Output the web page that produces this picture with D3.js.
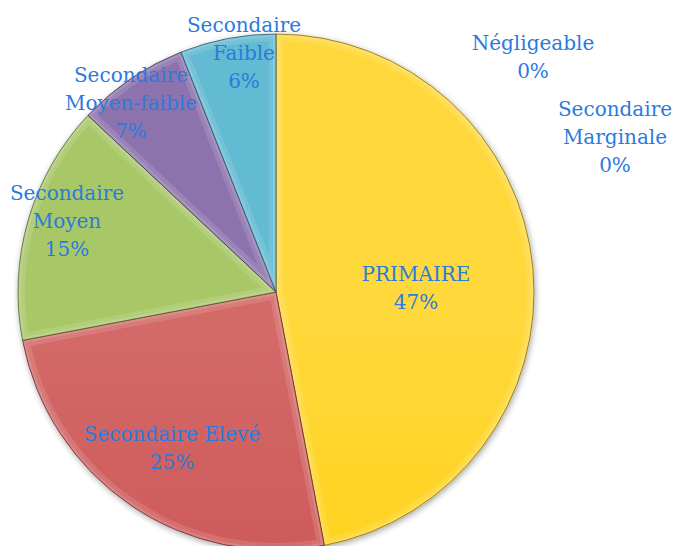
<!DOCTYPE html>
<html>
<head>
<meta charset="utf-8">
<script src="https://cdn.jsdelivr.net/npm/d3@7"></script>
<style>
  body { margin: 0; background: #fff; }
  svg { display: block; }
</style>
</head>
<body>
<div id="chart"></div>
<script>
// chart data
const categories = ["PRIMAIRE", "Secondaire Elevé", "Secondaire Moyen", "Secondaire Moyen-faible", "Secondaire Faible", "Négligeable", "Secondaire Marginale"];
const values = [47, 25, 15, 7, 6, 0, 0];
const labelLines = [
  ["PRIMAIRE"],
  ["Secondaire Elevé"],
  ["Secondaire", "Moyen"],
  ["Secondaire", "Moyen-faible"],
  ["Secondaire", "Faible"],
  ["Négligeable"],
  ["Secondaire", "Marginale"]
];
const colors = ["#ffcc00", "#c9474a", "#9cbc58", "#7f62a0", "#4aabc6", "#2c4d75", "#f79646"];
const lightColors = ["#ffd83a", "#d36a68", "#a8c868", "#8d73ae", "#62bad3", "#4a6a94", "#f9aa6a"];

// label placement
const labelPos = [
  [416, 288], [172, 448], [67, 221], [131, 103], [244, 53], [533, 57], [615, 137]
];

const width = 676, height = 546;
const cx = 276, cy = 292, radius = 258;

const svg = d3.select("#chart")
  .append("svg")
  .attr("width", width)
  .attr("height", height);

const defs = svg.append("defs");

// shadow
const shadow = defs.append("filter")
  .attr("id", "shadow")
  .attr("x", "-10%").attr("y", "-10%")
  .attr("width", "120%").attr("height", "120%");
shadow.append("feGaussianBlur").attr("in", "SourceAlpha").attr("stdDeviation", 3);
shadow.append("feOffset").attr("dx", 1).attr("dy", 2).attr("result", "off");
shadow.append("feComponentTransfer").append("feFuncA").attr("type", "linear").attr("slope", 0.35);
const merge = shadow.append("feMerge");
merge.append("feMergeNode");
merge.append("feMergeNode").attr("in", "SourceGraphic");

colors.forEach(function (c, i) {
  let g = defs.append("linearGradient")
    .attr("id", "grad" + i)
    .attr("gradientUnits", "userSpaceOnUse")
    .attr("x1", 0).attr("y1", cy - radius)
    .attr("x2", 0).attr("y2", cy + radius);
  g.append("stop").attr("offset", "0%").attr("stop-color", lightColors[i]);
  g.append("stop").attr("offset", "100%").attr("stop-color", c);
});

const pie = d3.pie()
  .value(function (d) { return d; })
  .sort(null);

const arc = d3.arc()
  .innerRadius(0)
  .outerRadius(radius);

const arcs = pie(values);

const g = svg.append("g")
  .attr("transform", "translate(" + cx + "," + cy + ")");

const slices = g.append("g").attr("filter", "url(#shadow)");

arcs.forEach(function (d, i) {
  if (d.value === 0) return;
  defs.append("clipPath")
    .attr("id", "clip" + i)
    .append("path")
    .attr("d", arc(d));

  let s = slices.append("g");
  s.append("path")
    .attr("d", arc(d))
    .attr("fill", "url(#grad" + i + ")");
  // soft bevel highlight along edges
  s.append("path")
    .attr("d", arc(d))
    .attr("clip-path", "url(#clip" + i + ")")
    .attr("fill", "none")
    .attr("stroke", "#fff")
    .attr("stroke-opacity", 0.12)
    .attr("stroke-width", 14)
    .attr("stroke-linejoin", "round");
  s.append("path")
    .attr("d", arc(d))
    .attr("clip-path", "url(#clip" + i + ")")
    .attr("fill", "none")
    .attr("stroke", "#fff")
    .attr("stroke-opacity", 0.12)
    .attr("stroke-width", 6)
    .attr("stroke-linejoin", "round");
  s.append("path")
    .attr("d", arc(d))
    .attr("fill", "none")
    .attr("stroke", d3.color(colors[i]).darker(1.8))
    .attr("stroke-opacity", 0.8)
    .attr("stroke-width", 1);
});

// labels
const lineH = 28;
arcs.forEach(function (d, i) {
  let lines = labelLines[i].concat([d.value + "%"]);
  let t = svg.append("text")
    .attr("text-anchor", "middle")
    .attr("font-family", "'DejaVu Serif', serif")
    .attr("font-size", 20)
    .attr("fill", "#2a7bdc");
  let y0 = labelPos[i][1] - (lines.length - 1) * lineH / 2;
  lines.forEach(function (l, k) {
    t.append("tspan")
      .attr("x", labelPos[i][0])
      .attr("y", y0 + k * lineH)
      .attr("dy", "0.35em")
      .text(l);
  });
});
</script>
</body>
</html>
